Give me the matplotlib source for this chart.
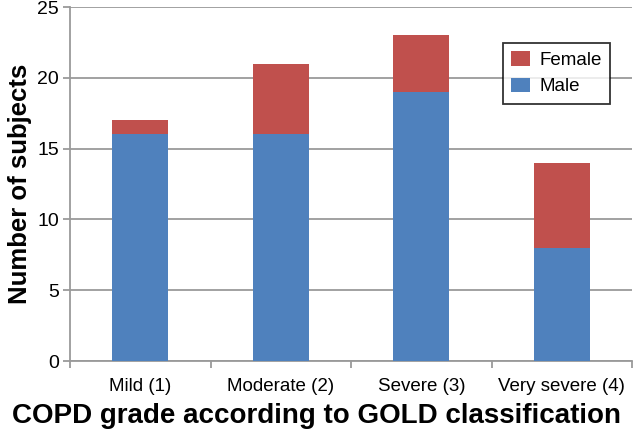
import matplotlib
matplotlib.use("Agg")
import matplotlib.pyplot as plt
import numpy as np

categories = ["Mild (1)", "Moderate (2)", "Severe (3)", "Very severe (4)"]
male = [16, 16, 19, 8]
female = [1, 5, 4, 6]

plt.rcParams['font.family'] = ['Liberation Sans', 'DejaVu Sans']

fig = plt.figure(figsize=(6.33, 4.32), dpi=100)
ax = fig.add_axes([70/633, 1-361/432, 562/633, 354/432])

x = np.arange(len(categories))
gray = '#9a9a9a'
ax.bar(x, male, width=0.4, color='#4F81BD', label='Male', zorder=3)
ax.bar(x, female, width=0.4, bottom=male, color='#C0504D', label='Female', zorder=3)

ax.set_xlim(-0.5, 3.5)
ax.set_ylim(0, 25)
ax.set_yticks([0, 5, 10, 15, 20, 25])
ax.yaxis.grid(True, color=gray, linewidth=1.3, zorder=0)
ax.set_xticks(x)
ax.set_xticklabels(categories, fontsize=13.5)
ax.tick_params(axis='x', length=0, pad=12)
ax.set_xticks(np.arange(-0.5, 4.0, 1.0), minor=True)
ax.tick_params(axis='x', which='minor', length=5, color=gray, width=1.3, direction='out')
ax.tick_params(axis='y', length=5, color=gray, width=1.3, direction='out', labelsize=14, pad=3)

for s in ['top', 'right']:
    ax.spines[s].set_visible(False)
for s in ['left', 'bottom']:
    ax.spines[s].set_color(gray)
    ax.spines[s].set_linewidth(1.3)

ax.set_ylabel('Number of subjects', fontsize=18.5, fontweight='bold', labelpad=4)
ax.set_xlabel('COPD grade according to GOLD classification', fontsize=20, fontweight='bold')
ax.xaxis.set_label_coords((317-70)/562, -0.12)

handles, labels = ax.get_legend_handles_labels()
leg = ax.legend(handles[::-1], labels[::-1], loc='upper left',
                bbox_to_anchor=((503-70)/562, (361-43)/354),
                fontsize=13.5, frameon=True, fancybox=False, edgecolor='black',
                handlelength=1.0, handleheight=0.8, borderpad=0.45, labelspacing=0.45,
                handletextpad=0.5, borderaxespad=0)
leg.get_frame().set_linewidth(1.3)
leg.set_zorder(5)

fig.savefig('out.png', dpi=100)
